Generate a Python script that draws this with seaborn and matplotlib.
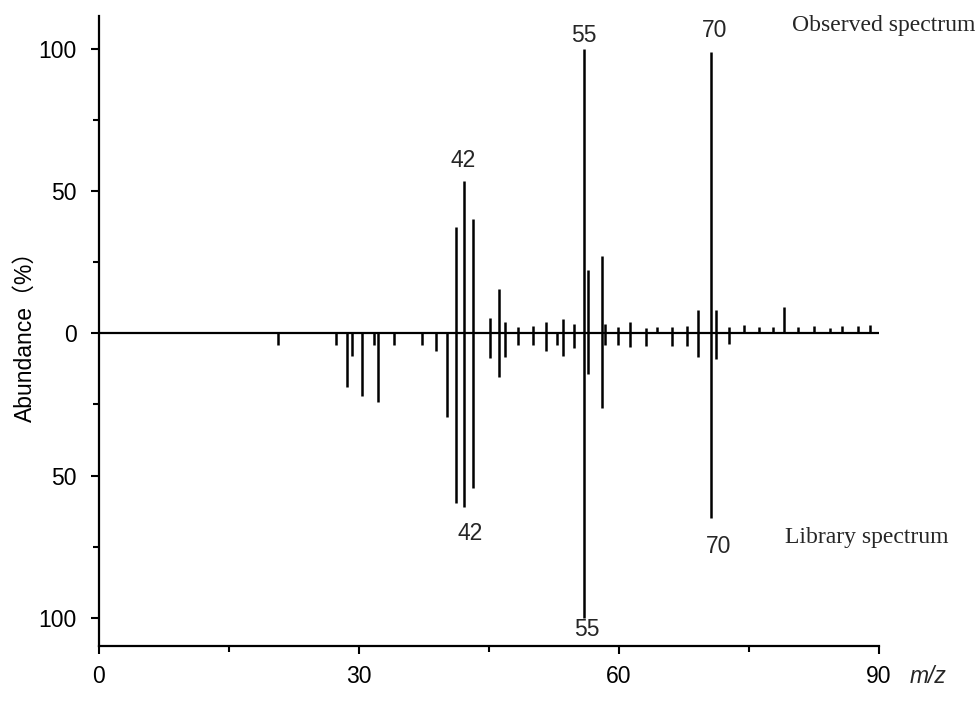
import matplotlib
matplotlib.use("Agg")
import matplotlib.pyplot as plt
import seaborn as sns
from matplotlib.ticker import FixedLocator, FuncFormatter

# observed spectrum (upper half): m/z position, abundance %
obs_mz = [41.15, 42.15, 43.1, 45.15, 46.2, 46.9, 48.3, 50.1, 51.6, 53.5, 54.8,
          56.0, 56.46, 58.0, 58.4, 59.9, 61.3, 63.1, 64.4, 66.1, 67.9, 69.15,
          70.6, 71.2, 72.7, 74.4, 76.2, 77.8, 79.0, 80.7, 82.5, 84.3, 85.7,
          87.6, 89.0]
obs_ab = [37.4, 53.8, 40.4, 5.3, 15.7, 3.9, 2.3, 2.7, 3.9, 5.1, 3.2,
          100, 22.5, 27.4, 3.5, 2.3, 3.9, 2.0, 2.3, 2.3, 2.7, 8.1,
          99, 8.2, 2.3, 2.8, 2.4, 2.4, 9.4, 2.4, 2.6, 2.0, 2.6,
          2.6, 3.0]

# library spectrum (lower half)
lib_mz = [20.7, 27.4, 28.65, 29.2, 30.4, 31.7, 32.2, 34.0, 37.3, 38.9, 40.15,
          41.15, 42.15, 43.1, 45.15, 46.2, 46.9, 48.3, 50.1, 51.6, 52.9, 53.5,
          54.8, 56.0, 56.46, 58.0, 58.4, 59.9, 61.3, 63.1, 66.1, 67.9, 69.15,
          70.6, 71.2, 72.7]
lib_ab = [4, 4, 19, 8, 22, 4, 24, 4, 4, 6, 29.5,
          59.6, 61.2, 54.5, 8.8, 15.5, 8.2, 4, 4, 6, 4.2, 8,
          5.1, 100, 14.3, 26.4, 3.9, 4.1, 4.8, 4.4, 4.4, 4.4, 8.4,
          65, 9, 3.8]

# labelled peaks: (index in obs/lib list, label)
obs_labels = [(1, "42"), (11, "55"), (22, "70")]
lib_labels = [(12, "42"), (23, "55"), (33, "70")]

sns.set_theme(style="ticks")
plt.rcParams["font.family"] = ["Liberation Sans", "Noto Sans CJK SC", "DejaVu Sans"]

fig, ax = plt.subplots(figsize=(9.76, 7.10), dpi=100)
fig.subplots_adjust(left=0.1014, right=0.9006, bottom=0.0901, top=0.977)

ax.axhline(0, color="black", lw=1.6, zorder=3)
ax.vlines(obs_mz, 0, obs_ab, color="black", lw=1.8)
ax.vlines(lib_mz, 0, [-v for v in lib_ab], color="black", lw=1.8)

ax.set_xlim(0, 90)
ax.set_ylim(-110, 111.6)

ax.xaxis.set_major_locator(FixedLocator([0, 30, 60, 90]))
ax.xaxis.set_minor_locator(FixedLocator([15, 45, 75]))
ax.yaxis.set_major_locator(FixedLocator([-100, -50, 0, 50, 100]))
ax.yaxis.set_minor_locator(FixedLocator([-75, -25, 25, 75]))
ax.yaxis.set_major_formatter(FuncFormatter(lambda v, _: f"{abs(v):g}"))

ax.tick_params(which="major", direction="out", length=6, width=1.5,
               labelsize=16.5, color="black", labelcolor="black")
ax.tick_params(which="minor", direction="out", length=4, width=1.5, color="black")
ax.tick_params(axis="x", which="major", pad=8)
ax.tick_params(axis="y", which="major", pad=10)

sns.despine(ax=ax)
for side in ("left", "bottom"):
    ax.spines[side].set_color("black")
    ax.spines[side].set_linewidth(1.6)

ax.set_ylabel("Abundance（%）", fontsize=16.5, color="black", labelpad=1)
ax.text(1.063, -0.049, "m/z", transform=ax.transAxes, fontsize=16.5,
        style="italic", ha="center", va="center")

top_off = {"42": (-1, 20), "55": (0, 14), "70": (4, 22)}
for i, lab in obs_labels:
    ax.annotate(lab, xy=(obs_mz[i], obs_ab[i]), xytext=top_off[lab],
                textcoords="offset pixels", ha="center", va="center", fontsize=16.5)
bot_off = {"42": (6, -26), "55": (3, -12), "70": (8, -28)}
for i, lab in lib_labels:
    ax.annotate(lab, xy=(lib_mz[i], -lib_ab[i]), xytext=bot_off[lab],
                textcoords="offset pixels", ha="center", va="center", fontsize=16.5)

serif = ["Liberation Serif", "DejaVu Serif"]
ax.text(80.0, 108.5, "Observed spectrum", family=serif, fontsize=17,
        ha="left", va="center")
ax.text(79.2, -71.8, "Library spectrum", family=serif, fontsize=17,
        ha="left", va="center")

plt.savefig("out.png", dpi=100)
plt.close()
